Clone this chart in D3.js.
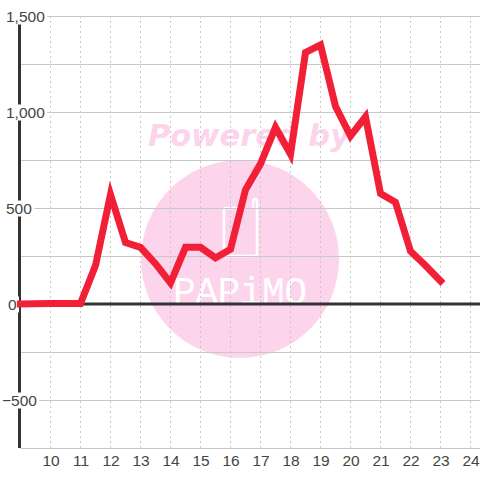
<!DOCTYPE html>
<html>
<head>
<meta charset="utf-8">
<script src="https://cdn.jsdelivr.net/npm/d3@7"></script>
<style>
html, body { margin: 0; padding: 0; background: #fff; }
svg { display: block; }
.lbl { font-family: "Liberation Sans", sans-serif; font-size: 15.5px; fill: #444; }
</style>
</head>
<body>
<div id="chart"></div>
<script>
const hours = [9, 10, 11, 11.5, 12, 12.5, 13, 13.5, 14, 14.5, 15, 15.5, 16, 16.5, 17, 17.5, 18, 18.5, 19, 19.5, 20, 20.5, 21, 21.5, 22, 22.5, 23];
const values = [0, 3, 3, 200, 570, 320, 295, 210, 110, 295, 295, 240, 285, 595, 730, 920, 780, 1310, 1350, 1030, 875, 975, 575, 530, 275, 200, 120];
const xTicks = [10, 11, 12, 13, 14, 15, 16, 17, 18, 19, 20, 21, 22, 23, 24];
const yLabels = [-500, 0, 500, 1000, 1500];
const yGrid = [-750, -500, -250, 250, 500, 750, 1000, 1250, 1500];

const width = 480, height = 480;
const svg = d3.select('#chart').append('svg').attr('width', width).attr('height', height);

const x = d3.scaleLinear().domain([9, 24]).range([20.5, 470.5]);
const y = d3.scaleLinear().domain([-750, 1500]).range([448, 16]);

// watermark goes under everything
const mark = svg.append('g');
const pink = '#fcd5ec';
mark.append('circle').attr('cx', 240).attr('cy', 259).attr('r', 99).attr('fill', pink);
mark.append('text')
    .attr('x', 148).attr('y', 146)
    .attr('font-family', 'DejaVu Sans').attr('font-weight', 'bold').attr('font-style', 'italic')
    .attr('font-size', 30.5).attr('fill', pink)
    .text('Powered by');
mark.append('path')
    .attr('d', 'M226 208h12M226 208q-2 0 -2 2v43q0 3 3 3h27q3 0 3 -3v-51q0 -3 -2 -3t-2 3v6')
    .attr('fill', 'none').attr('stroke', '#fff').attr('stroke-width', 2.5);
mark.append('text')
    .attr('x', 173).attr('y', 304)
    .attr('textLength', 134).attr('lengthAdjust', 'spacing')
    .attr('font-family', 'Liberation Mono').attr('font-size', 38).attr('fill', '#fff')
    .text('PAPiMO');

// grid
const grid = svg.append('g');
grid.selectAll('line.h').data(yGrid).enter().append('line')
    .attr('class', 'h')
    .attr('x1', x(9)).attr('x2', width)
    .attr('y1', d => Math.round(y(d)) + 0.5).attr('y2', d => Math.round(y(d)) + 0.5)
    .attr('stroke', '#c8c8c8');
grid.selectAll('line.v').data(xTicks).enter().append('line')
    .attr('class', 'v')
    .attr('x1', d => x(d)).attr('x2', d => x(d))
    .attr('y1', y(1500)).attr('y2', y(-750))
    .attr('stroke', '#c8c8c8').attr('stroke-dasharray', '2,3');

// axis lines
svg.append('line')
    .attr('x1', x(9) - 1).attr('x2', x(9) - 1)
    .attr('y1', y(1500)).attr('y2', y(-750))
    .attr('stroke', '#333').attr('stroke-width', 3);
svg.append('line')
    .attr('x1', x(9)).attr('x2', width)
    .attr('y1', y(0)).attr('y2', y(0))
    .attr('stroke', '#333').attr('stroke-width', 3);

// y labels sit on a white box that cuts the axis
const yAxis = svg.append('g').call(d3.axisLeft(y).tickValues(yLabels).tickSize(0).tickFormat(d3.format(',')));
yAxis.select('.domain').remove();
yAxis.selectAll('.tick text')
    .attr('class', 'lbl')
    .attr('text-anchor', 'start')
    .attr('font-family', null).attr('font-size', null)
    .attr('x', d => d < 0 ? 2 : d === 0 ? 8 : 6)
    .attr('dy', '0.35em');
yAxis.attr('font-size', null).attr('font-family', null);
yAxis.selectAll('.tick').each(function () {
    const t = d3.select(this).select('text');
    const b = t.node().getBBox();
    d3.select(this).insert('rect', 'text')
        .attr('x', b.x).attr('y', -8)
        .attr('width', b.width + 2).attr('height', 16)
        .attr('fill', '#fff');
});

const xAxis = svg.append('g').attr('transform', 'translate(0,448)')
    .call(d3.axisBottom(x).tickValues(xTicks).tickSize(0).tickPadding(0));
xAxis.attr('font-size', null).attr('font-family', null);
xAxis.select('.domain').remove();
xAxis.selectAll('.tick text').attr('class', 'lbl').attr('y', 18).attr('dy', 0);

// series
const line = d3.line().x((d, i) => x(hours[i])).y(d => y(d));
svg.append('path')
    .datum(values)
    .attr('d', line)
    .attr('fill', 'none')
    .attr('stroke', '#f22036')
    .attr('stroke-width', 7)
    .attr('stroke-linecap', 'square')
    .attr('stroke-linejoin', 'miter');
</script>
</body>
</html>
